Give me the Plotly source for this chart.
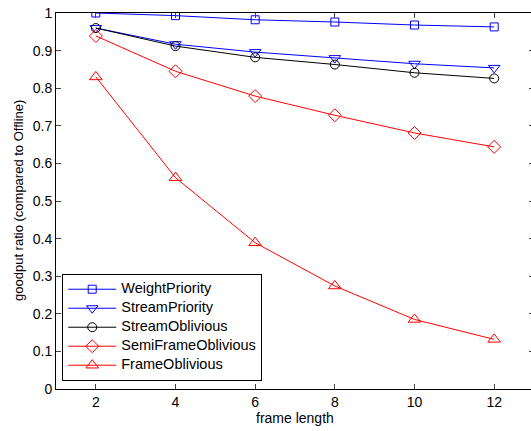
import plotly.graph_objects as go

frame_length = [2, 4, 6, 8, 10, 12]
weight_priority = [1.0, 0.993, 0.982, 0.976, 0.968, 0.963]
stream_priority = [0.96, 0.917, 0.896, 0.880, 0.865, 0.854]
stream_oblivious = [0.96, 0.912, 0.882, 0.863, 0.841, 0.826]
semi_frame_oblivious = [0.939, 0.845, 0.779, 0.728, 0.681, 0.644]
frame_oblivious = [0.83, 0.562, 0.389, 0.274, 0.185, 0.132]

x_ticks = [2, 4, 6, 8, 10, 12]
y_ticks = [0, 0.1, 0.2, 0.3, 0.4, 0.5, 0.6, 0.7, 0.8, 0.9, 1]
y_tick_text = ["0", "0.1", "0.2", "0.3", "0.4", "0.5", "0.6", "0.7", "0.8", "0.9", "1"]

series = [
    ("WeightPriority", weight_priority, "#0000ff", "square-open", 8),
    ("StreamPriority", stream_priority, "#0000ff", "triangle-down-open", 10),
    ("StreamOblivious", stream_oblivious, "#000000", "circle-open", 9),
    ("SemiFrameOblivious", semi_frame_oblivious, "#ff0000", "diamond-open", 10),
    ("FrameOblivious", frame_oblivious, "#ff0000", "triangle-up-open", 11),
]

fig = go.Figure()
for name, vals, color, sym, size in series:
    fig.add_trace(go.Scatter(
        x=frame_length, y=vals,
        name="<span style='font-size:14.5px'>" + name + "</span>",
        mode="lines+markers",
        line=dict(color=color, width=1),
        marker=dict(symbol=sym, size=size, color=color, line=dict(color=color, width=1)),
    ))

font_family = "Liberation Sans, Arial, sans-serif"
fig.update_layout(
    width=535, height=431,
    margin=dict(l=56, r=1, t=13, b=42),
    paper_bgcolor="white", plot_bgcolor="white",
    font=dict(family=font_family, size=13, color="black"),
    showlegend=True,
    legend=dict(
        x=0.013, y=0.022, xanchor="left", yanchor="bottom",
        bgcolor="white", bordercolor="black", borderwidth=1,
        font=dict(family=font_family, size=9, color="black"),
        tracegroupgap=0, itemwidth=48,
    ),
    xaxis=dict(
        range=[1, 13], tickvals=x_ticks, ticks="inside", ticklen=5,
        showline=True, linecolor="black", linewidth=1, mirror="ticks",
        showgrid=False, zeroline=False, automargin=False,
        tickfont=dict(size=14),
    ),
    yaxis=dict(
        range=[0, 1], tickvals=y_ticks, ticktext=y_tick_text, ticks="inside", ticklen=5,
        showline=True, linecolor="black", linewidth=1, mirror="ticks",
        showgrid=False, zeroline=False, automargin=False,
        tickfont=dict(size=14),
    ),
    annotations=[
        dict(text="frame length", xref="paper", yref="paper", x=0.5, y=0,
             yshift=-29, xanchor="center", yanchor="middle", showarrow=False,
             font=dict(size=14)),
        dict(text="goodput ratio (compared to Offline)", xref="paper", yref="paper",
             x=0, y=0.5, xshift=-38, xanchor="center", yanchor="middle",
             textangle=-90, showarrow=False, font=dict(size=13)),
    ],
)

fig.write_html(
    "out.html",
    config={"displayModeBar": False},
    post_script="document.body.style.margin='0px';document.body.style.overflow='hidden';document.documentElement.style.overflow='hidden';",
)
